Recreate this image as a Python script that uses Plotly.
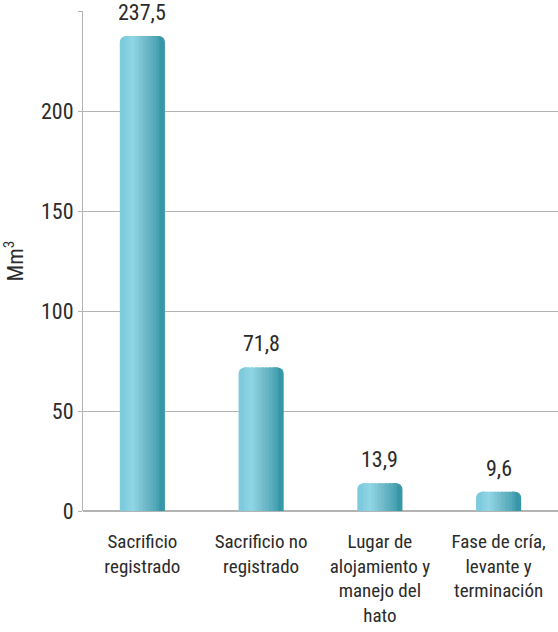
import plotly.graph_objects as go

# Data
categories = [
    "Sacrificio<br>registrado",
    "Sacrificio no<br>registrado",
    "Lugar de<br>alojamiento y<br>manejo del<br>hato",
    "Fase de cría,<br>levante y<br>terminación",
]
values = [237.5, 71.8, 13.9, 9.6]
value_labels = ["237,5", "71,8", "13,9", "9,6"]
y_ticks = [0, 50, 100, 150, 200, 250]
y_tick_text = ["0", "50", "100", "150", "200", ""]

FONT = "Liberation Sans Narrow, Roboto Condensed, DejaVu Sans Condensed, sans-serif"
TEXT = "#2b2b2b"
GRID = "#b3b3b3"

# Horizontal gradient stops for the cylinder-like bars
stops = [
    (0.00, (122, 200, 220)),
    (0.30, (143, 213, 229)),
    (0.55, (116, 188, 204)),
    (0.80, (80, 168, 184)),
    (1.00, (44, 142, 159)),
]


def shade(t):
    for (t0, c0), (t1, c1) in zip(stops, stops[1:]):
        if t <= t1:
            f = (t - t0) / (t1 - t0) if t1 > t0 else 0
            return "rgb(%d,%d,%d)" % tuple(round(a + (b - a) * f) for a, b in zip(c0, c1))
    return "rgb(%d,%d,%d)" % stops[-1][1]


BAR_W = 0.38          # bar width in category units
CAP = 0.05            # width of the rounded end caps (category units)
RADIUS = 6
N_STRIPS = 24

fig = go.Figure()


def layer(offset, width, color, radius=0):
    fig.add_trace(
        go.Bar(
            x=categories,
            y=values,
            offset=offset,
            width=width,
            marker=dict(color=color, line=dict(width=0), cornerradius=radius),
            hoverinfo="skip",
            showlegend=False,
        )
    )


# rounded caps at both edges
cap_t = CAP / 2 / BAR_W
layer(-BAR_W / 2, 2 * CAP + 0.02, shade(cap_t), RADIUS)
layer(BAR_W / 2 - 2 * CAP - 0.02, 2 * CAP + 0.02, shade(1 - cap_t), RADIUS)

# flat gradient strips in between
inner = BAR_W - 2 * CAP
step = inner / N_STRIPS
for i in range(N_STRIPS):
    x0 = -BAR_W / 2 + CAP + i * step
    t = (x0 + step / 2 + BAR_W / 2) / BAR_W
    layer(x0, step * 1.15, shade(t))

annotations = [
    dict(
        x=c, y=v, text=lbl, xref="x", yref="y",
        yanchor="bottom", yshift=9, showarrow=False,
        font=dict(family=FONT, size=22, color=TEXT),
    )
    for c, v, lbl in zip(categories, values, value_labels)
]

fig.update_layout(
    width=558,
    height=632,
    margin=dict(l=83, r=0, t=11, b=121),
    paper_bgcolor="white",
    plot_bgcolor="white",
    barmode="overlay",
    font=dict(family=FONT, size=19, color=TEXT),
    annotations=annotations,
    xaxis=dict(
        showgrid=False,
        showline=False,
        ticks="",
        automargin=False,
        ticklabelstandoff=17,
        tickfont=dict(family=FONT, size=19, color=TEXT),
    ),
    yaxis=dict(
        range=[0, 250],
        tickvals=y_ticks,
        ticktext=y_tick_text,
        automargin=False,
        showgrid=True,
        gridcolor=GRID,
        gridwidth=1,
        zeroline=True,
        zerolinecolor=GRID,
        zerolinewidth=2,
        showline=True,
        linecolor=GRID,
        linewidth=1,
        ticks="outside",
        ticklen=4,
        tickcolor=GRID,
        tickfont=dict(family=FONT, size=22, color=TEXT),
        title=dict(text="Mm<sup>3</sup>", font=dict(family=FONT, size=22, color=TEXT), standoff=14),
    ),
)

fig.write_html("out.html")
